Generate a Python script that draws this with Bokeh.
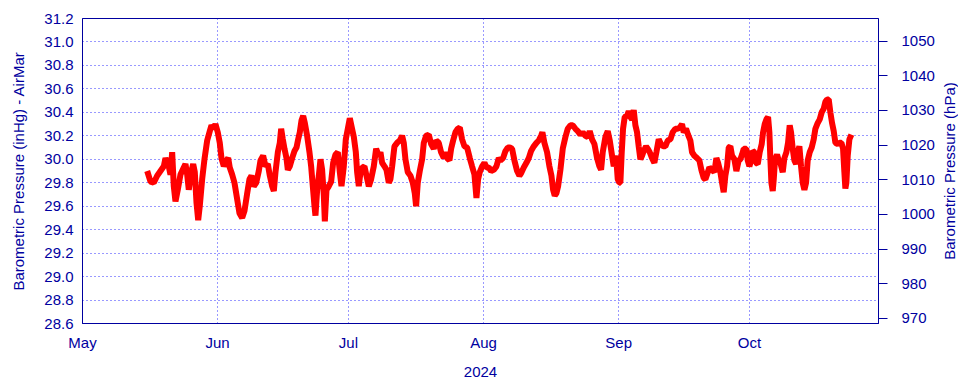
from datetime import datetime, timedelta
from bokeh.plotting import figure
from bokeh.layouts import row
from bokeh.models import (LinearAxis, Range1d, FixedTicker, MonthsTicker,
                          DatetimeTickFormatter, PrintfTickFormatter, ColumnDataSource)
from bokeh.embed import file_html
from bokeh.resources import INLINE

# days since 2024-05-01 00:00
days = [
    14.84, 15.60, 16.35, 17.13, 17.89, 18.65, 19.04, 19.79, 20.18, 20.57, 20.94, 21.33, 21.86,
    22.48, 23.23, 23.62, 24.01, 24.38, 24.93, 25.39, 25.76, 26.15, 26.54, 26.90, 27.45, 27.98,
    28.60, 29.20, 29.59, 30.11, 30.50, 31.03, 31.49, 31.88, 32.41, 33.03, 33.42, 33.78, 34.33,
    34.86, 35.48, 36.01, 36.63, 37.16, 37.78, 38.30, 38.76, 39.29, 39.84, 40.44,
    40.83, 41.44, 41.98, 42.51, 42.97, 43.51, 43.89, 44.27, 44.81, 45.26, 45.57, 45.95, 46.33,
    46.79, 47.10, 47.56, 48.09, 48.63, 49.09, 49.47, 49.85, 50.23, 50.62, 51.00, 51.53, 52.07,
    52.45, 52.83, 53.22, 53.44, 53.83, 54.21, 54.59, 54.97, 55.36, 55.59, 55.97, 56.50, 57.04,
    57.50, 58.03, 58.57, 59.03, 59.41, 59.94, 60.40, 60.86, 61.32, 61.78, 62.24, 62.70, 63.00,
    63.38, 63.77, 64.22, 64.68, 65.14, 65.68, 66.21, 66.82, 67.36, 67.97,
    68.35, 68.73, 69.27, 69.73, 70.26, 70.64, 71.03, 71.56, 72.17, 72.78, 73.32, 73.70, 74.08,
    74.62, 75.23, 75.77, 76.22, 76.53, 76.91, 77.37, 77.91, 78.29, 78.82, 79.44, 79.97, 80.58,
    81.12, 81.73, 82.26, 82.88, 83.26, 83.64, 84.18, 84.56, 85.02, 85.55, 86.09, 86.55, 87.08,
    87.62, 88.23, 88.84, 89.37, 89.91, 90.37, 90.75, 91.13, 91.67, 92.20, 92.66, 93.20, 93.73,
    94.34, 94.96, 95.49,
    95.87, 96.48, 97.02, 97.55, 98.01, 98.55, 99.08, 99.69, 100.23, 100.61, 101.22, 101.83,
    102.37, 102.90, 103.52, 104.13, 104.66, 105.20, 105.50, 105.96, 106.57, 107.11, 107.57,
    107.95, 108.33, 108.71, 109.10, 109.63, 110.17, 110.78, 111.31, 111.93, 112.46, 113.07,
    113.61, 114.22, 114.75, 115.37, 115.90, 116.36, 116.89, 117.43, 118.04, 118.58, 118.96,
    119.34, 119.95, 120.49, 120.95, 121.48, 121.86, 122.40, 122.78, 123.16,
    123.39, 123.70, 124.00, 124.38, 124.92, 125.30, 125.68, 126.07, 126.45, 126.83, 127.21,
    127.59, 127.98, 128.36, 128.74, 129.28, 129.66, 130.12, 130.65, 131.19, 131.65, 132.18,
    132.72, 133.18, 133.71, 134.25, 134.86, 135.39, 136.00, 136.54, 137.00, 137.53, 137.92,
    138.45, 138.91, 139.44, 139.83, 140.36, 140.97, 141.51, 141.97, 142.50, 142.89, 143.27,
    143.80, 144.41, 144.95, 145.41, 145.79, 146.33, 146.71, 147.09, 147.47, 147.86, 148.24,
    148.62, 149.00, 149.54, 150.00, 150.53,
    150.92, 151.30, 151.68, 152.30, 152.60, 152.98, 153.37, 153.75, 154.13, 154.51, 154.90,
    155.35, 155.81, 156.12, 156.50, 156.88, 157.27, 157.57, 157.80, 158.03, 158.34, 158.57,
    158.87, 159.33, 159.71, 160.09, 160.63, 161.01, 161.47, 161.85, 162.23, 162.54, 162.92,
    163.30, 163.69, 164.07, 164.45, 164.83, 165.22, 165.60, 165.98, 166.36, 166.82, 167.28,
    167.74, 168.12, 168.66, 169.12, 169.57, 170.03, 170.42, 170.80, 171.18, 171.56, 171.94,
    172.33, 172.71, 173.24, 173.70, 174.09, 174.47, 174.77, 175.00, 175.23, 175.54, 175.92,
    176.38,
]

# barometric pressure, inHg
inhg = [
    29.90, 29.81, 29.80, 29.86, 29.90, 29.94, 30.01, 29.94, 29.87, 30.06, 29.77, 29.64, 29.74,
    29.87, 29.93, 29.96, 29.87, 29.74, 29.89, 29.96, 29.89, 29.63, 29.48, 29.60, 29.83, 30.00,
    30.16, 30.24, 30.29, 30.26, 30.30, 30.23, 30.14, 30.01, 29.94, 29.99, 30.01, 29.93, 29.87,
    29.80, 29.66, 29.54, 29.50, 29.56, 29.71, 29.83, 29.86, 29.77, 29.80, 29.90,
    29.99, 30.03, 29.94, 29.96, 29.86, 29.77, 29.73, 29.89, 30.06, 30.14, 30.26, 30.17, 30.09,
    30.01, 29.91, 29.94, 30.01, 30.07, 30.10, 30.17, 30.23, 30.33, 30.37, 30.31, 30.20, 30.06,
    29.94, 29.77, 29.60, 29.52, 29.74, 29.86, 30.00, 29.91, 29.69, 29.47, 29.74, 29.77, 29.81,
    29.97, 30.04, 30.06, 29.89, 29.77, 29.94, 30.17, 30.26, 30.35, 30.27, 30.19, 30.06, 29.89,
    29.77, 29.89, 29.93, 29.94, 29.86, 29.77, 29.83, 29.94, 30.09, 30.03,
    30.06, 29.97, 29.94, 29.91, 29.80, 29.83, 29.94, 30.11, 30.14, 30.16, 30.20, 30.14, 30.00,
    29.89, 29.86, 29.80, 29.71, 29.60, 29.80, 29.90, 30.00, 30.14, 30.20, 30.21, 30.13, 30.09,
    30.16, 30.14, 30.06, 30.01, 30.06, 30.01, 29.99, 30.09, 30.16, 30.23, 30.26, 30.27, 30.17,
    30.11, 30.10, 30.01, 29.94, 29.87, 29.67, 29.83, 29.89, 29.94, 29.97, 29.93, 29.93, 29.90,
    29.91, 29.94, 30.01,
    29.99, 30.01, 30.07, 30.10, 30.10, 30.09, 29.99, 29.90, 29.86, 29.88, 29.93, 29.97,
    30.01, 30.07, 30.11, 30.14, 30.16, 30.20, 30.23, 30.14, 30.06, 29.94, 29.86,
    29.74, 29.69, 29.71, 29.77, 29.91, 30.09, 30.19, 30.26, 30.29, 30.29, 30.26,
    30.24, 30.21, 30.23, 30.20, 30.19, 30.24, 30.17, 30.13, 30.01, 29.94, 29.91,
    30.06, 30.19, 30.24, 30.16, 30.03, 29.94, 30.03, 29.83, 29.80,
    29.80, 30.06, 30.26, 30.36, 30.37, 30.41, 30.36, 30.34, 30.42, 30.29, 30.23,
    30.11, 30.00, 30.03, 30.07, 30.11, 30.09, 30.06, 30.01, 29.97, 30.06, 30.17,
    30.13, 30.11, 30.11, 30.16, 30.17, 30.23, 30.26, 30.26, 30.27, 30.30, 30.23,
    30.26, 30.21, 30.16, 30.06, 30.03, 30.01, 29.99, 29.91, 29.84, 29.83, 29.87,
    29.93, 29.91, 29.89, 30.01, 29.97, 29.89, 29.80, 29.72, 29.86, 29.94, 30.10,
    30.11, 30.03, 30.00, 29.90, 29.99,
    30.00, 30.04, 30.09, 30.09, 29.99, 29.94, 29.99, 30.07, 30.06, 29.97, 29.96,
    30.06, 30.13, 30.23, 30.30, 30.34, 30.36, 30.23, 30.00, 29.80, 29.73, 29.83,
    30.00, 30.04, 29.99, 29.97, 29.89, 30.01, 30.06, 30.14, 30.29, 30.23, 30.09,
    29.99, 29.96, 30.06, 30.11, 29.94, 29.80, 29.74, 29.80, 29.99, 30.06, 30.10,
    30.17, 30.26, 30.31, 30.34, 30.40, 30.43, 30.49, 30.51, 30.51, 30.40, 30.31,
    30.24, 30.14, 30.13, 30.14, 30.14, 30.09, 29.89, 29.75, 29.80, 30.03, 30.17,
    30.21,
]

INHG_TO_HPA = 33.8639
y_min, y_max = 28.6, 31.2
inhg_ticks = [28.6, 28.8, 29.0, 29.2, 29.4, 29.6, 29.8, 30.0, 30.2, 30.4, 30.6, 30.8, 31.0, 31.2]
hpa_ticks = [970, 980, 990, 1000, 1010, 1020, 1030, 1040, 1050]
left_title = "Barometric Pressure (inHg) - AirMar"
right_title = "Barometric Pressure (hPa)"
x_title = "2024"

START = datetime(2024, 5, 1)
END = START + timedelta(days=182.6)

times = [START + timedelta(days=d) for d in days]
src = ColumnDataSource(data=dict(t=times, p=inhg))

NAVY = "#0000a0"
FONT = "Liberation Sans"
FS = "15px"

p = figure(x_axis_type="datetime", x_range=Range1d(START, END),
           y_range=Range1d(y_min, y_max),
           frame_width=796, frame_height=305,
           min_border_left=82, min_border_right=56, min_border_top=18, min_border_bottom=60,
           output_backend="svg", toolbar_location=None)

p.background_fill_color = "white"
p.border_fill_color = "white"
p.outline_line_color = NAVY
p.outline_line_width = 1
p.outline_line_alpha = 1

p.line("t", "p", source=src, line_color="#ff0000", line_width=6)

# left axis
la = p.yaxis[0]
la.ticker = FixedTicker(ticks=inhg_ticks)
la.formatter = PrintfTickFormatter(format="%.1f")
la.axis_label = left_title
la.major_tick_out = 0
la.major_tick_in = 0
la.minor_tick_out = 0
la.minor_tick_in = 0
la.major_label_standoff = 9
la.axis_label_standoff = 14

# bottom axis
ba = p.xaxis[0]
ba.ticker = MonthsTicker(months=list(range(1, 13)))
ba.formatter = DatetimeTickFormatter(months="%b", days="%b", years="%b")
ba.axis_label = x_title
ba.major_tick_out = 0
ba.major_tick_in = 0
ba.minor_tick_out = 0
ba.minor_tick_in = 0
ba.major_label_standoff = 10
ba.axis_label_standoff = 13

# right axis (hPa)
p.extra_y_ranges = {"hpa": Range1d(y_min * INHG_TO_HPA, y_max * INHG_TO_HPA)}
ra = LinearAxis(y_range_name="hpa", ticker=FixedTicker(ticks=hpa_ticks))
ra.major_tick_out = 9
ra.major_tick_in = 0
ra.minor_tick_out = 0
ra.minor_tick_in = 0
ra.major_label_standoff = 14
p.add_layout(ra, "right")

for ax in (la, ba, ra):
    ax.axis_line_color = NAVY
    ax.major_tick_line_color = NAVY
    ax.major_label_text_color = NAVY
    ax.axis_label_text_color = NAVY
    ax.major_label_text_font = FONT
    ax.axis_label_text_font = FONT
    ax.major_label_text_font_size = FS
    ax.axis_label_text_font_size = FS
    ax.axis_label_text_font_style = "normal"

# grids
for g in (p.xgrid[0], p.ygrid[0]):
    g.grid_line_color = "#0000ff"
    g.grid_line_alpha = 0.8
    g.grid_line_dash = "1 3"
    g.grid_line_width = 1
p.xgrid[0].ticker = ba.ticker
p.ygrid[0].ticker = la.ticker

# narrow companion panel carrying the right-hand title (reads bottom-to-top)
p2 = figure(x_range=Range1d(0, 1), y_range=Range1d(y_min, y_max),
            frame_width=1, frame_height=305,
            min_border_left=0, min_border_right=0, min_border_top=18, min_border_bottom=60,
            x_axis_location=None, output_backend="svg", toolbar_location=None)
p2.outline_line_color = None
p2.grid.visible = False
p2.background_fill_color = "white"
p2.border_fill_color = "white"
ta = p2.yaxis[0]
ta.ticker = FixedTicker(ticks=[])
ta.axis_line_color = None
ta.major_tick_out = 0
ta.major_tick_in = 0
ta.minor_tick_out = 0
ta.minor_tick_in = 0
ta.major_label_standoff = 0
ta.axis_label = right_title
ta.axis_label_standoff = 0
ta.axis_label_text_color = NAVY
ta.axis_label_text_font = FONT
ta.axis_label_text_font_size = FS
ta.axis_label_text_font_style = "normal"

layout = row(p, p2, spacing=0)
open("out.html", "w").write(file_html(layout, INLINE))
